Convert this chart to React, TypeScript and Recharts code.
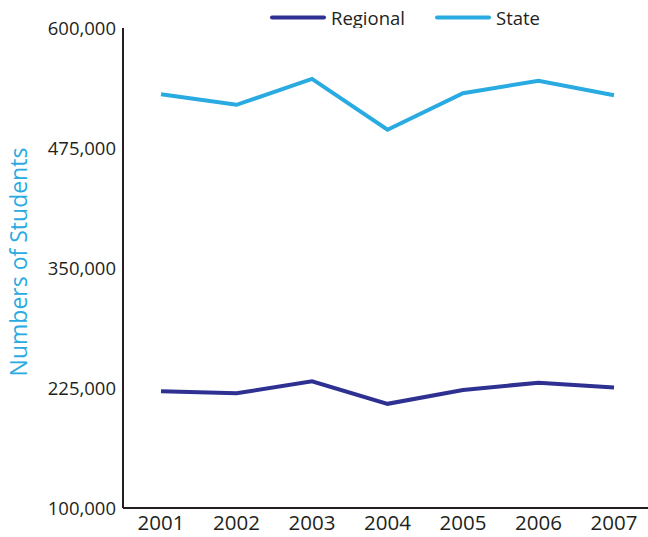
import { LineChart, Line, XAxis, YAxis, Legend } from 'recharts';

const years = ['2001', '2002', '2003', '2004', '2005', '2006', '2007'];
const regional = [221500, 219500, 232000, 208500, 223000, 230500, 225500];
const state = [531000, 520000, 547000, 494000, 532000, 545000, 530000];
const yTicks = [100000, 225000, 350000, 475000, 600000];

const data = years.map((year, i) => ({
  year,
  Regional: regional[i],
  State: state[i],
}));

const FONT = '"Open Sans", sans-serif';
const INK = '#231F20';

// legend items sit at fixed offsets across the top of the chart
const LEGEND_X = [272, 437];

function TopLegend({ payload }: any) {
  return (
    <svg width={648} height={28} style={{ display: 'block' }}>
      {(payload || []).map((entry: any, i: number) => {
        const x = LEGEND_X[i] ?? 272 + i * 165;
        return (
          <g key={entry.value}>
            <line x1={x} x2={x + 52} y1={17.5} y2={17.5} stroke={entry.color} strokeWidth={4} strokeLinecap="round" />
            <text x={x + 59} y={24.5} fontFamily={FONT} fontSize={18.5} fill={INK}>
              {entry.value}
            </text>
          </g>
        );
      })}
    </svg>
  );
}

function AxisTitle({ viewBox }: any) {
  const cx = 18;
  const cy = viewBox.y + viewBox.height / 2 - 6;
  return (
    <text
      x={cx}
      y={cy}
      transform={`rotate(-90, ${cx}, ${cy})`}
      textAnchor="middle"
      dominantBaseline="central"
      fontFamily={FONT}
      fontSize={23}
      fill="#29ABE2"
    >
      Numbers of Students
    </text>
  );
}

export default function App() {
  return (
    <div style={{ position: 'absolute', left: 0, top: 0, width: 648, height: 537, background: '#fff' }}>
      <LineChart width={648} height={537} data={data} margin={{ top: 0, right: 0, bottom: 0, left: 0 }}>
        <Legend
          verticalAlign="top"
          align="left"
          height={28}
          content={<TopLegend />}
          wrapperStyle={{ left: 0, top: 0, width: 648, height: 28 }}
        />
        <XAxis
          dataKey="year"
          height={29}
          padding={{ left: 38, right: 34 }}
          tickLine={false}
          tickSize={0}
          tickMargin={7}
          axisLine={{ stroke: INK, strokeWidth: 2 }}
          tick={{ fill: INK, fontSize: 20.5, fontFamily: FONT }}
        />
        <YAxis
          width={123}
          domain={[100000, 600000]}
          ticks={yTicks}
          tickLine={false}
          tickSize={0}
          tickMargin={7}
          axisLine={{ stroke: INK, strokeWidth: 2 }}
          tick={{ fill: INK, fontSize: 18.5, fontFamily: FONT }}
          tickFormatter={(v: number) => v.toLocaleString('en-US')}
          label={<AxisTitle />}
        />
        <Line
          type="linear"
          dataKey="Regional"
          stroke="#2E3192"
          strokeWidth={4}
          dot={false}
          isAnimationActive={false}
        />
        <Line
          type="linear"
          dataKey="State"
          stroke="#29ABE2"
          strokeWidth={4}
          dot={false}
          isAnimationActive={false}
        />
      </LineChart>
    </div>
  );
}
